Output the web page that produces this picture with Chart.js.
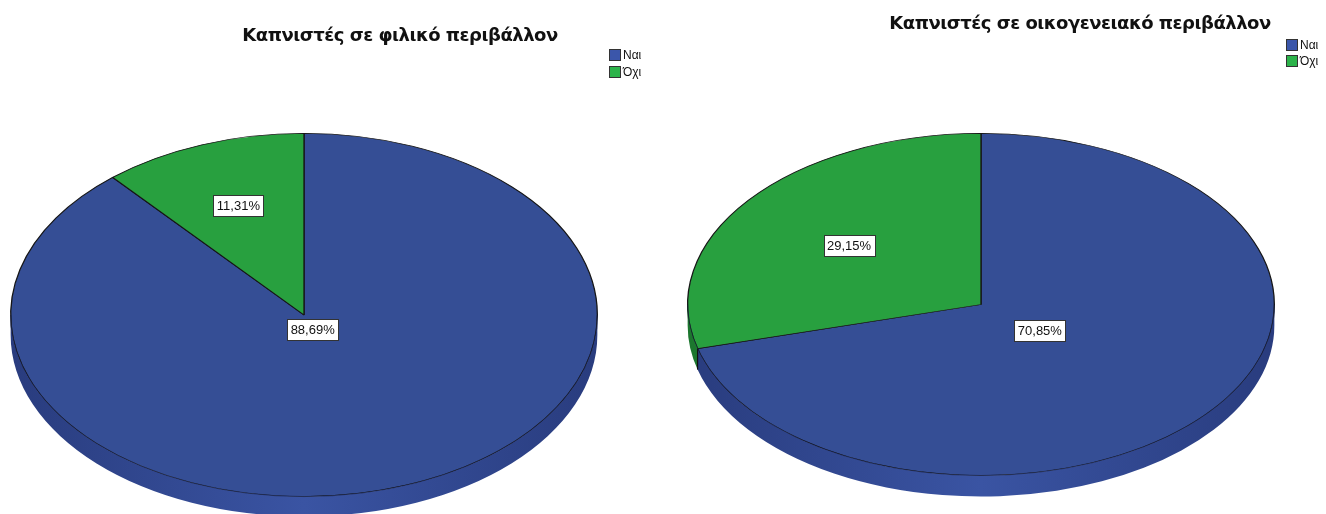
<!DOCTYPE html>
<html>
<head>
<meta charset="utf-8">
<script src="https://cdn.jsdelivr.net/npm/chart.js@4.4.1/dist/chart.umd.min.js"></script>
<style>
  html, body { margin: 0; padding: 0; background: #fff; width: 1326px; height: 514px; overflow: hidden; }
  .pane { position: absolute; top: 0; width: 663px; height: 640px; }
</style>
</head>
<body>
<div class="pane" style="left:0"><canvas id="friends" width="663" height="640"></canvas></div>
<div class="pane" style="left:663px"><canvas id="family" width="663" height="640"></canvas></div>
<script>
const categories = ['Ναι', 'Όχι'];
const friendsShare = [88.69, 11.31];
const familyShare = [70.85, 29.15];
const titles = ['Καπνιστές σε φιλικό περιβάλλον', 'Καπνιστές σε οικογενειακό περιβάλλον'];

const faceColors = ['#354e95', '#28a03f'];
const keyColors = ['#3b56aa', '#2cb34a'];
const rimColors = [
  ['#293c7e', '#3a54a3', '#293c7e'],
  ['#1c762e', '#27963b', '#1c762e']
];

function pctText(v) {
  return v.toFixed(2).replace('.', ',') + '%';
}

// tilted pie: squash the face vertically, add a rim, boxed value labels,
// title and a small key in the top right corner
const pie3d = {
  id: 'pie3d',
  beforeDatasetsDraw(chart, args, opts) {
    const arc = chart.getDatasetMeta(0).data[0];
    const ctx = chart.ctx;
    ctx.save();
    ctx.translate(0, arc.y);
    ctx.scale(1, opts.squash);
    ctx.translate(0, -arc.y);
  },
  afterDatasetsDraw(chart, args, opts) {
    const ctx = chart.ctx;
    ctx.restore();
    const arcs = chart.getDatasetMeta(0).data;
    const { x, y, outerRadius: r } = arcs[0];
    const ry = r * opts.squash;
    const d = opts.depth;

    // rim, only the front half shows
    arcs.forEach((arc, i) => {
      const a = Math.max(arc.startAngle, 0);
      const b = Math.min(arc.endAngle, Math.PI);
      if (b <= a) return;
      const g = ctx.createLinearGradient(x - r, 0, x + r, 0);
      const stops = rimColors[i];
      stops.forEach((c, j) => g.addColorStop(j / (stops.length - 1), c));
      ctx.beginPath();
      ctx.ellipse(x, y, r, ry, 0, a, b);
      ctx.ellipse(x, y + d, r, ry, 0, b, a, true);
      ctx.closePath();
      ctx.fillStyle = g;
      ctx.fill();
    });

    // seams on the rim
    ctx.strokeStyle = '#111';
    ctx.lineWidth = 1.2;
    arcs.forEach(arc => {
      const a = arc.startAngle;
      if (a > 0 && a < Math.PI) {
        const sx = x + Math.cos(a) * r;
        const sy = y + Math.sin(a) * ry;
        ctx.beginPath();
        ctx.moveTo(sx, sy);
        ctx.lineTo(sx, sy + d);
        ctx.stroke();
      }
    });

    // soft edge between face and rim
    ctx.beginPath();
    ctx.ellipse(x, y, r, ry, 0, 0, Math.PI);
    ctx.strokeStyle = 'rgba(20, 28, 60, 0.55)';
    ctx.lineWidth = 1;
    ctx.stroke();

    // value labels
    ctx.font = '13px "Liberation Sans", Arial, sans-serif';
    ctx.textAlign = 'center';
    ctx.textBaseline = 'middle';
    arcs.forEach((arc, i) => {
      const mid = (arc.startAngle + arc.endAngle) / 2;
      const lr = opts.labelRadius[i] * r;
      const px = x + Math.cos(mid) * lr;
      const py = y + Math.sin(mid) * lr * opts.squash;
      const txt = pctText(chart.data.datasets[0].data[i]);
      const w = Math.round(ctx.measureText(txt).width + 7);
      const h = 21;
      const bx = Math.round(px - w / 2) + 0.5;
      const by = Math.round(py - h / 2) + 0.5;
      ctx.fillStyle = '#fff';
      ctx.fillRect(bx, by, w, h);
      ctx.strokeStyle = '#333';
      ctx.lineWidth = 1;
      ctx.strokeRect(bx, by, w, h);
      ctx.fillStyle = '#111';
      ctx.fillText(txt, px, by + h / 2 + 0.5);
    });
  },
  afterDraw(chart, args, opts) {
    const ctx = chart.ctx;
    ctx.save();
    ctx.fillStyle = '#111';
    ctx.font = 'bold 18px "DejaVu Sans", sans-serif';
    ctx.letterSpacing = '-0.5px';
    ctx.textAlign = 'center';
    ctx.textBaseline = 'alphabetic';
    ctx.fillText(opts.title, opts.titleX, opts.titleY);
    ctx.letterSpacing = '0px';

    ctx.font = '12px "Liberation Sans Narrow", "Liberation Sans", Arial, sans-serif';
    ctx.textAlign = 'left';
    ctx.textBaseline = 'middle';
    chart.data.labels.forEach((label, i) => {
      const ky = opts.keyY + i * opts.keyStep;
      ctx.fillStyle = keyColors[i];
      ctx.fillRect(opts.keyX + 0.5, ky + 0.5, 11, 11);
      ctx.strokeStyle = '#333';
      ctx.lineWidth = 1;
      ctx.strokeRect(opts.keyX + 0.5, ky + 0.5, 11, 11);
      ctx.fillStyle = '#111';
      ctx.fillText(label, opts.keyX + 14, ky + 6.5);
    });
    ctx.restore();
  }
};

function makePie(id, values, padding, look) {
  return new Chart(document.getElementById(id), {
    type: 'pie',
    data: {
      labels: categories,
      datasets: [{
        data: values,
        backgroundColor: faceColors,
        borderColor: '#161616',
        borderWidth: 1.3
      }]
    },
    options: {
      responsive: false,
      animation: false,
      events: [],
      layout: { padding: padding },
      plugins: {
        legend: { display: false },
        title: { display: false },
        tooltip: { enabled: false },
        pie3d: look
      }
    },
    plugins: [pie3d]
  });
}

makePie('friends', friendsShare, { left: 10, right: 65, top: 21, bottom: 31 }, {
  squash: 0.619, depth: 20,
  labelRadius: [0.085, 0.643],
  title: titles[0], titleX: 400, titleY: 41,
  keyX: 609, keyY: 49, keyStep: 17
});

makePie('family', familyShare, { left: 24, right: 51, top: 10.5, bottom: 41.5 }, {
  squash: 0.583, depth: 21,
  labelRadius: [0.253, 0.567],
  title: titles[1], titleX: 417, titleY: 29,
  keyX: 623, keyY: 39, keyStep: 16
});
</script>
</body>
</html>
